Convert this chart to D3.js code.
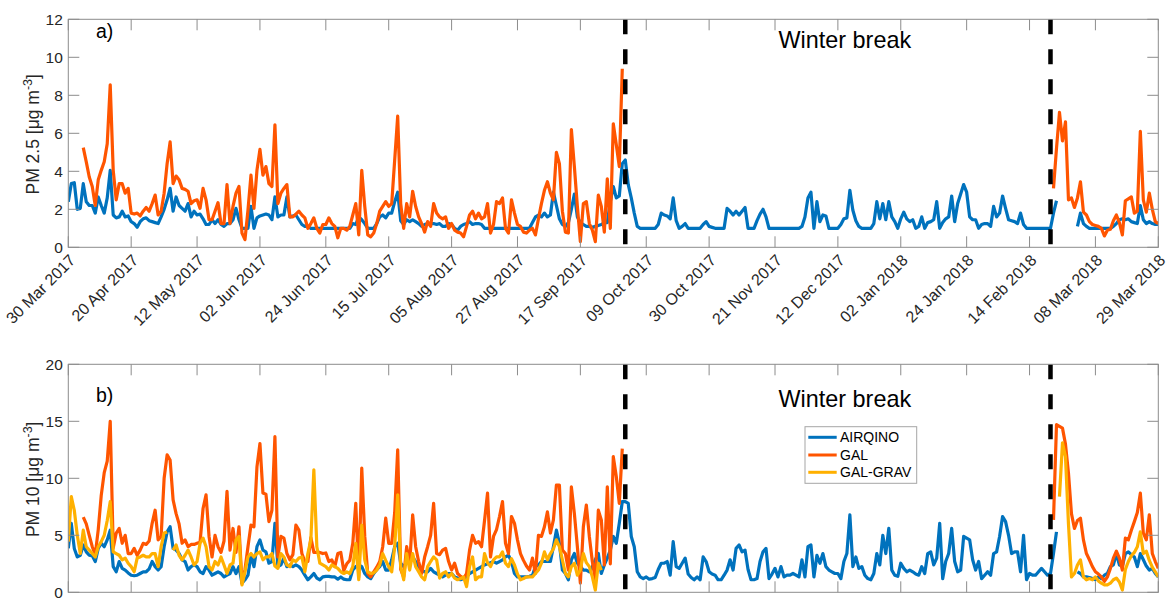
<!DOCTYPE html>
<html><head><meta charset="utf-8">
<script src="https://cdn.jsdelivr.net/npm/d3@7"></script>
<style>
body{margin:0;background:#fff;}
svg{display:block;font-family:"Liberation Sans",Arial,Helvetica,sans-serif;}
</style>
</head><body>
<svg id="chart" width="1171" height="599"></svg>
<script>
// ---------------- DATA ----------------
const xDomain = ["2017-03-30", "2018-03-29"];
const tickDates = ["2017-03-30","2017-04-20","2017-05-12","2017-06-02","2017-06-24","2017-07-15","2017-08-05","2017-08-27","2017-09-17","2017-10-09","2017-10-30","2017-11-21","2017-12-12","2018-01-02","2018-01-24","2018-02-14","2018-03-08","2018-03-29"];
const tickLabels = ["30 Mar 2017","20 Apr 2017","12 May 2017","02 Jun 2017","24 Jun 2017","15 Jul 2017","05 Aug 2017","27 Aug 2017","17 Sep 2017","09 Oct 2017","30 Oct 2017","21 Nov 2017","12 Dec 2017","02 Jan 2018","24 Jan 2018","14 Feb 2018","08 Mar 2018","29 Mar 2018"];
const breakDates = ["2017-10-02", "2018-02-21"];
const pm25Ticks = [0, 2, 4, 6, 8, 10, 12];
const pm10Ticks = [0, 5, 10, 15, 20];
const legendNames = ["AIRQINO", "GAL", "GAL-GRAV"];

// daily PM2.5, AIRQINO, from 2017-03-30
const pm25Airqino = [
2.4,3.35,3.4,2.0,2.05,3.35,2.4,2.2,2.2,1.8,
2.65,2.2,1.8,2.6,4.05,1.7,1.55,1.6,1.9,1.6,
1.65,1.35,1.25,1.05,1.35,1.5,1.55,1.4,1.35,1.3,
1.25,1.6,2.0,2.5,3.1,1.9,2.65,2.2,2.05,1.9,
2.3,1.6,1.9,1.7,1.75,1.5,1.2,1.2,1.45,1.25,
1.45,1.2,1.1,1.25,1.25,1.45,2.05,1.45,1.0,1.0,
1.0,2.15,1.0,1.55,1.65,1.7,1.75,1.7,1.45,2.65,
1.6,1.7,1.7,2.65,1.6,1.65,1.7,1.45,1.2,1.1,
1.1,1.0,1.0,1.0,1.0,1.0,1.0,1.0,1.0,1.0,
1.0,1.0,1.0,1.0,1.0,1.25,1.2,1.6,1.45,1.25,
1.0,1.0,1.0,1.25,1.6,1.7,1.55,1.8,1.8,2.4,
2.9,1.4,1.2,1.45,1.35,1.45,1.35,1.25,1.1,1.2,
1.25,1.25,1.25,1.2,1.25,1.1,1.1,1.25,1.2,1.0,
0.9,1.1,1.2,1.25,1.35,1.2,1.25,1.25,1.2,1.0,
1.0,1.0,1.0,1.0,1.0,1.0,1.0,1.0,1.0,1.0,
1.0,1.0,1.0,1.0,1.0,1.3,1.6,1.7,1.6,1.8,
1.6,1.7,2.9,2.2,1.5,1.2,1.1,1.3,2.0,2.8,
1.6,1.3,1.2,1.1,1.1,1.05,1.1,1.15,1.2,1.3,
1.3,2.4,3.2,2.6,2.7,4.4,4.6,3.3,2.6,1.8,
1.1,1.0,1.0,1.0,1.0,1.0,1.0,1.2,1.8,1.7,
1.65,1.5,2.6,1.4,1.0,1.1,1.25,1.0,1.0,1.0,
1.0,1.0,1.2,1.35,1.1,1.05,1.0,1.0,1.0,1.0,
2.05,1.9,1.7,1.9,1.7,1.9,2.1,1.0,1.0,1.0,
1.4,1.75,2.0,1.6,1.0,1.0,1.0,1.0,1.0,1.0,
1.0,1.0,1.0,1.0,1.0,1.1,1.6,2.6,2.9,1.0,
2.4,1.35,1.7,1.65,1.0,1.0,1.0,1.0,1.2,1.5,
1.55,3.0,1.95,1.4,1.1,1.0,1.0,1.0,1.0,1.25,
2.4,1.5,2.3,1.45,2.4,1.6,1.35,1.0,1.5,1.85,
1.5,1.35,1.45,1.0,1.1,1.6,1.0,1.3,1.35,1.45,
2.4,1.0,1.3,1.5,1.6,2.7,1.35,2.3,2.8,3.3,
2.9,1.6,1.45,1.45,1.0,1.2,1.25,1.25,1.1,2.15,
1.6,1.8,2.7,2.05,1.45,1.4,1.35,1.25,1.8,1.2,
1.0,1.0,1.0,1.0,1.0,1.0,1.0,1.0,1.0,1.8,
2.45,null,null,null,null,null,null,1.1,1.8,1.25,
1.1,1.0,1.0,1.0,1.0,1.0,1.0,1.0,1.0,1.1,
1.25,1.45,1.5,1.45,1.5,1.35,1.3,1.25,2.2,1.45,
1.25,1.35,1.25,1.2,1.2];

// daily PM2.5, GAL, first campaign from 2017-04-04
const pm25GalA = [
5.25,4.5,3.7,3.2,2.2,
3.55,4.05,4.5,5.45,8.55,4.05,2.5,3.35,3.35,2.85,
3.1,1.8,1.75,1.8,1.65,1.9,2.1,1.9,2.3,2.75,
1.7,1.9,2.85,4.4,5.55,3.35,3.75,3.55,3.1,3.05,
2.95,2.3,2.45,2.5,2.05,3.1,2.5,1.45,1.45,1.9,
2.35,1.25,1.25,3.3,1.25,2.15,2.85,3.2,0.75,0.4,
1.95,3.8,2.05,4.05,5.15,3.8,4.25,3.35,3.2,6.45,
2.3,2.85,3.1,3.3,1.6,1.6,1.75,1.9,1.7,1.55,
1.0,1.25,1.55,1.0,0.75,1.2,1.2,1.55,1.25,1.1,
0.5,1.0,1.0,0.9,1.1,1.7,2.3,0.65,4.05,2.15,
0.65,0.55,0.75,1.25,1.9,2.15,2.4,2.15,2.3,4.6,
6.9,2.3,1.0,2.3,1.6,2.95,2.15,1.6,1.25,0.8,
1.35,1.1,2.3,1.8,1.6,1.5,1.6,1.0,1.25,0.9,
0.8,0.75,0.55,1.1,1.7,1.9,1.5,1.8,1.5,1.6,
2.3,0.75,1.2,2.4,2.3,2.6,1.0,0.75,2.5,1.8,
1.2,1.1,0.8,0.75,0.9,1.0,0.65,1.5,2.3,3.0,
3.45,2.85,2.5,5.0,4.4,1.9,0.8,0.75,6.2,4.25,
2.15,0.3,2.3,2.4,1.25,0.9,0.3,2.75,2.15,0.8,
3.6,1.0,6.5,5.4,4.25,9.4];
// daily PM2.5, GAL, second campaign from 2018-02-22
const pm25GalB = [
3.1,5.2,7.1,5.6,6.6,2.5,2.6,2.1,2.6,3.45,1.85,
1.7,1.35,1.2,1.15,1.1,1.0,0.6,0.9,0.95,1.4,
1.7,1.3,0.65,2.45,2.55,2.65,1.8,1.9,6.1,2.5,
1.85,2.85,2.0,1.35,1.25];

// daily PM10, AIRQINO, from 2017-03-30
const pm10Airqino = [
3.85,6.05,3.85,3.1,3.25,4.15,3.55,3.25,3.2,2.7,
3.85,4.3,4.0,4.6,5.45,2.25,1.8,2.7,2.1,1.95,
1.7,1.5,1.45,1.5,1.65,1.8,1.8,2.05,2.7,2.25,
1.95,2.25,4.0,5.3,5.75,3.85,3.7,3.4,2.85,2.7,
1.95,2.25,2.4,2.25,1.8,1.65,2.25,1.95,1.5,1.65,
1.8,1.65,1.35,1.5,1.65,2.25,1.65,2.25,0.8,1.1,
1.5,3.25,2.25,4.0,4.6,3.7,3.55,2.55,2.7,6.05,
2.25,2.4,3.0,2.25,2.4,2.25,2.4,2.25,1.95,1.5,
1.1,1.35,1.65,1.25,1.1,1.35,1.4,1.4,1.35,1.35,
1.15,1.35,1.15,1.1,1.1,1.95,2.25,2.4,2.25,1.65,
1.35,1.2,1.65,2.0,2.25,2.7,1.95,1.95,2.85,4.0,
4.3,2.55,2.25,2.6,3.4,3.1,2.7,2.25,1.95,1.8,
1.8,2.1,1.8,1.65,1.5,1.35,1.5,1.65,1.65,1.35,
1.25,1.1,1.2,1.35,1.65,1.8,1.95,2.1,2.25,2.4,
2.5,2.6,2.7,2.55,2.7,2.85,3.1,3.25,2.7,1.65,
1.35,1.35,1.35,1.35,1.4,1.5,2.25,2.4,2.7,2.7,
2.7,2.7,4.0,5.45,4.3,1.95,1.65,1.1,2.85,3.4,
2.55,2.25,1.95,1.95,1.8,2.25,2.85,3.4,1.65,2.4,
3.0,3.7,4.9,4.3,6.05,7.95,7.95,7.8,4.9,4.0,
1.8,1.35,1.2,1.35,1.15,1.2,1.3,2.0,2.55,2.55,
2.7,1.5,4.45,2.25,2.1,2.55,3.0,1.6,1.3,1.1,
1.35,1.1,3.1,2.7,1.8,1.6,1.5,1.1,1.1,1.5,
1.95,2.85,1.95,3.85,4.15,3.55,3.7,2.0,1.1,1.1,
1.2,2.7,3.55,3.85,1.2,1.6,2.1,1.35,2.25,1.35,
1.5,1.5,1.65,1.5,1.35,2.85,1.35,4.0,4.15,1.35,
3.25,2.55,3.4,2.25,1.95,1.8,1.65,1.65,1.2,2.7,
3.4,6.8,2.25,3.1,2.1,2.25,1.5,1.2,1.1,1.65,
3.4,2.4,5.0,3.4,5.6,1.95,1.5,1.4,2.55,2.1,
1.8,1.95,1.8,1.6,1.5,2.25,1.65,3.4,3.55,2.4,
3.0,6.05,1.2,2.7,3.4,5.6,2.7,1.8,1.95,4.9,
4.75,4.6,2.85,1.95,2.7,1.2,1.5,1.8,1.5,3.4,
3.55,4.9,6.65,6.2,5.0,3.4,3.55,3.55,1.8,5.0,
1.1,1.65,1.5,1.5,1.8,2.1,1.8,1.5,1.65,3.4,
5.3,null,null,null,null,null,null,1.8,1.65,1.35,
1.35,1.3,1.2,1.1,1.35,1.2,1.5,1.65,2.25,2.4,
3.4,2.4,2.3,3.4,3.55,3.3,3.1,2.25,3.4,2.85,
2.3,1.95,2.1,1.65,1.35];

// daily PM10, GAL, first campaign from 2017-04-04
const pm10GalA = [
6.6,6.0,5.0,4.0,3.3,
5.5,8.5,10.5,11.5,15.0,3.9,5.2,5.6,4.3,5.0,
3.4,3.4,3.85,3.25,3.7,4.3,4.2,4.5,6.05,7.2,
4.6,4.9,10.0,12.05,11.6,8.1,6.9,6.0,4.3,4.6,
4.0,4.2,4.2,4.3,4.4,7.35,8.55,4.9,3.1,5.0,
4.0,3.5,4.5,8.85,3.7,5.6,3.5,5.75,0.8,2.0,
4.0,5.9,5.75,11.0,13.05,8.7,8.6,6.2,7.2,13.65,
3.1,4.9,4.75,3.4,2.85,3.3,5.9,5.45,3.4,2.7,
2.7,4.8,3.5,3.5,3.5,3.4,3.45,2.7,2.85,2.25,
3.4,3.5,1.9,2.5,2.8,4.3,7.8,1.35,10.9,4.9,
1.65,1.35,1.8,2.2,2.7,4.0,6.5,4.3,4.3,7.0,
12.5,2.0,1.35,4.0,2.5,6.8,4.0,2.7,1.65,3.1,
4.0,5.0,7.8,3.4,3.3,3.7,3.85,2.7,1.95,2.55,
1.65,1.4,1.2,1.65,3.7,5.0,4.3,4.45,4.0,6.3,
8.7,3.1,4.9,5.5,6.65,7.95,4.3,3.4,6.65,6.05,
4.6,3.4,2.8,2.3,1.95,3.0,1.65,5.0,4.9,5.75,
7.05,5.2,6.35,9.4,9.4,3.7,3.4,1.95,9.25,6.9,
4.0,0.8,5.75,7.65,4.9,2.7,1.1,7.2,6.35,2.4,
9.25,2.5,11.9,10.15,7.8,12.6];
// daily PM10, GAL, second campaign from 2018-02-22
const pm10GalB = [
6.35,14.7,14.55,14.4,13.0,10.45,6.9,5.6,6.3,6.5,4.6,
3.4,2.85,2.25,1.8,1.6,1.35,0.95,1.35,2.1,3.0,
3.6,3.0,1.95,4.75,4.6,5.45,6.2,7.0,8.7,5.2,
4.6,6.8,3.4,2.7,2.1];

// daily PM10, GAL-GRAV, first campaign from 2017-03-30
const pm10GravA = [
4.45,8.4,7.2,5.0,3.4,5.45,4.0,3.7,3.4,3.1,
4.0,4.45,5.0,6.3,7.95,3.55,3.4,3.25,2.85,3.0,
2.55,2.25,1.8,3.0,3.1,3.25,3.1,3.1,3.4,3.4,
2.25,4.0,5.2,5.3,null,3.7,4.15,3.25,2.85,3.25,
3.7,3.1,2.4,2.7,4.3,4.75,4.0,2.25,1.95,2.7,
2.4,3.1,2.4,1.65,2.4,2.55,4.6,4.9,0.65,1.8,
3.1,3.4,3.1,3.4,3.55,2.85,3.1,3.1,3.4,2.3,
2.1,3.4,3.1,2.4,2.25,2.85,2.7,3.0,3.1,1.8,
3.4,4.6,10.75,4.0,2.55,2.4,2.25,1.95,2.4,2.25,
2.1,1.8,1.65,1.8,1.65,2.25,4.3,1.1,5.9,2.85,
1.8,1.65,1.7,1.95,2.4,3.4,2.8,2.25,1.8,4.0,
8.55,2.25,1.1,3.4,1.95,3.4,2.25,1.8,1.35,1.1,
2.25,2.7,3.1,2.85,1.25,1.65,1.8,1.35,1.65,1.25,
1.1,1.2,1.35,0.5,2.25,3.1,1.1,1.35,1.35,3.4,
2.6,2.25,2.85,3.1,3.1,3.55,2.55,2.25,2.95,2.4,
1.6,1.1,1.2,1.35,1.35,1.35,1.65,1.95,2.55,3.55,
2.85,3.4,3.8,4.6,4.0,2.85,1.65,1.35,2.25,2.55,
1.5,1.95,3.4,2.6,2.25,1.35,0.2,2.55,1.95];
// daily PM10, GAL-GRAV, second campaign from 2018-02-24
const pm10GravB = [
8.4,13.1,11.9,6.0,1.35,1.65,2.4,2.85,1.35,
1.1,1.2,1.1,1.35,1.0,0.8,0.65,0.65,0.8,1.1,
1.25,0.9,0.2,2.0,2.7,3.2,3.5,4.0,5.3,3.4,
3.6,2.8,2.2,1.8,1.35];

// ---------------- RENDER ----------------
const parse = d3.utcParse("%Y-%m-%d");
function daily(start, values) {
  const s = parse(start);
  return values.map((v, i) => ({ date: d3.utcDay.offset(s, i), value: v }));
}
const COLORS = { AIRQINO: "#0072BD", GAL: "#FF5500", "GAL-GRAV": "#FFB000" };

const svg = d3.select("#chart");
const X0 = 68.3, X1 = 1158.3;
const x = d3.scaleUtc().domain(xDomain.map(parse)).range([X0, X1]);
const axisColor = "#8c8c8c", textColor = "#262626";

const panels = [
  { top: 19.3, bottom: 247.3, max: 12, ticks: pm25Ticks, label: "PM 2.5", letter: "a)",
    letterY: 38.3, wbY: 48.3, showX: true,
    series: [
      { name: "AIRQINO", segs: [daily("2017-03-30", pm25Airqino)] },
      { name: "GAL", segs: [daily("2017-04-04", pm25GalA), daily("2018-02-22", pm25GalB)] }
    ] },
  { top: 364.3, bottom: 592.3, max: 20, ticks: pm10Ticks, label: "PM 10", letter: "b)",
    letterY: 402, wbY: 406.7, showX: false, legend: true,
    series: [
      { name: "AIRQINO", segs: [daily("2017-03-30", pm10Airqino)] },
      { name: "GAL", segs: [daily("2017-04-04", pm10GalA), daily("2018-02-22", pm10GalB)] },
      { name: "GAL-GRAV", segs: [daily("2017-03-30", pm10GravA), daily("2018-02-24", pm10GravB)] }
    ] }
];

panels.forEach((p, pi) => {
  const y = d3.scaleLinear().domain([0, p.max]).range([p.bottom, p.top]);
  const g = svg.append("g");
  const clipId = "clip" + pi;
  svg.append("clipPath").attr("id", clipId).append("rect")
    .attr("x", X0).attr("y", p.top).attr("width", X1 - X0).attr("height", p.bottom - p.top);

  // lines
  const line = d3.line().defined(d => d.value != null)
    .x(d => x(d.date)).y(d => y(d.value));
  const lg = g.append("g").attr("clip-path", `url(#${clipId})`);
  p.series.forEach(s => {
    s.segs.forEach(seg => {
      lg.append("path").datum(seg).attr("d", line)
        .attr("fill", "none").attr("stroke", COLORS[s.name])
        .attr("stroke-width", 3.2).attr("stroke-linejoin", "round").attr("stroke-linecap", "butt");
    });
  });

  // break lines
  breakDates.forEach(bd => {
    g.append("line").attr("x1", x(parse(bd))).attr("x2", x(parse(bd)))
      .attr("y1", p.top).attr("y2", p.bottom)
      .attr("stroke", "#000").attr("stroke-width", 4.5).attr("stroke-dasharray", "15,15");
  });

  // box + ticks
  const ax = g.append("g");
  ax.append("rect").attr("x", X0).attr("y", p.top).attr("width", X1 - X0).attr("height", p.bottom - p.top)
    .attr("fill", "none").attr("stroke", axisColor).attr("stroke-width", 1);
  const TL = 11;
  tickDates.forEach((td, i) => {
    const tx = x(parse(td));
    ax.append("line").attr("x1", tx).attr("x2", tx).attr("y1", p.bottom).attr("y2", p.bottom - TL).attr("stroke", axisColor);
    ax.append("line").attr("x1", tx).attr("x2", tx).attr("y1", p.top).attr("y2", p.top + TL).attr("stroke", axisColor);
    if (p.showX) {
      ax.append("text").attr("transform", `translate(${tx + 8},${p.bottom + 14}) rotate(-45)`)
        .attr("text-anchor", "end").attr("font-size", 16).attr("fill", textColor).text(tickLabels[i]);
    }
  });
  p.ticks.forEach(t => {
    const ty = y(t);
    ax.append("line").attr("x1", X0).attr("x2", X0 + TL).attr("y1", ty).attr("y2", ty).attr("stroke", axisColor);
    ax.append("line").attr("x1", X1).attr("x2", X1 - TL).attr("y1", ty).attr("y2", ty).attr("stroke", axisColor);
    ax.append("text").attr("x", X0 - 5.5).attr("y", ty).attr("dy", "0.36em")
      .attr("text-anchor", "end").attr("font-size", 15.5).attr("fill", textColor).text(t);
  });

  // y label
  const cy = (p.top + p.bottom) / 2 + 1;
  const yl = g.append("text").attr("transform", `translate(39.3,${cy}) rotate(-90)`)
    .attr("text-anchor", "middle").attr("font-size", 17.5).attr("fill", textColor);
  yl.append("tspan").text(p.label + " [");
  yl.append("tspan").text("\u03BC");
  yl.append("tspan").text("g m");
  yl.append("tspan").attr("dy", -7).attr("font-size", 12.5).text("-3");
  yl.append("tspan").attr("dy", 7).text("]");

  // panel letter & annotation
  g.append("text").attr("x", 96).attr("y", p.letterY).attr("font-size", 19.5).attr("fill", "#000").text(p.letter);
  g.append("text").attr("x", 778.5).attr("y", p.wbY).attr("font-size", 23.4).attr("fill", "#000").text("Winter break");

  // legend
  if (p.legend) {
    const lgd = g.append("g");
    lgd.append("rect").attr("x", 805).attr("y", 426.7).attr("width", 111.7).attr("height", 56.6)
      .attr("fill", "#fff").attr("stroke", "#a6a6a6").attr("stroke-width", 1);
    const rowsY = [437.3, 455, 472.3];
    legendNames.forEach((n, i) => {
      lgd.append("line").attr("x1", 808.3).attr("x2", 836.7).attr("y1", rowsY[i]).attr("y2", rowsY[i])
        .attr("stroke", COLORS[n]).attr("stroke-width", 3);
      lgd.append("text").attr("x", 840).attr("y", rowsY[i]).attr("dy", "0.36em")
        .attr("font-size", 14).attr("fill", "#000").text(n);
    });
  }
});
</script>
</body></html>
